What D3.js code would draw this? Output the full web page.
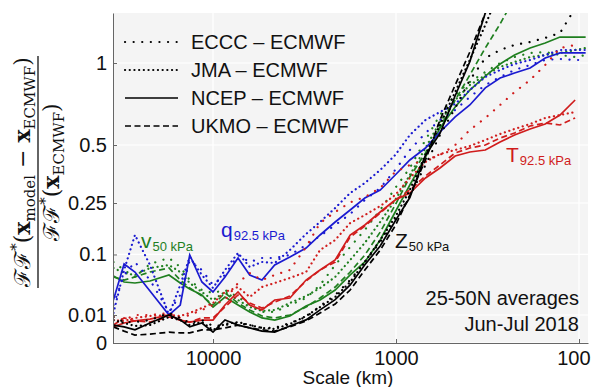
<!DOCTYPE html>
<html>
<head>
<meta charset="utf-8">
<script src="https://cdn.jsdelivr.net/npm/d3@7"></script>
<style>
  body { margin: 0; background: #fff; }
  svg text { font-family: "Liberation Sans", Arial, Helvetica, sans-serif; }
</style>
</head>
<body>
<svg id="chart" width="591" height="387"></svg>
<script>
// scale (km) of each sample, shared by all series
const scales = [35000, 30600, 26700, 22100, 17400, 15100, 13400, 11500, 10000, 8600,
  7300, 6300, 5400, 4600, 3800, 3100, 2600, 2150, 1780, 1480,
  1220, 1010, 840, 690, 575, 475, 395, 325, 270, 225,
  185, 153, 127, 105, 92];

// Z 50 kPa
const zEccc = [0.0086, 0.0056, 0.0056, 0.0067, 0.0115, 0.008, 0.0051, 0.0067, 0.0037, 0.0041, 0.0051, 0.0041, 0.0029, 0.0029, 0.0051, 0.0086, 0.0175, 0.0294, 0.0506, 0.084, 0.130, 0.193, 0.276, 0.404, 0.552, 0.704, 0.882, 1.036, 1.095, 1.133, 1.156, 1.187, 1.226, 1.43, 1.7];
const zJma = [0.0067, 0.0051, 0.0037, 0.0041, 0.0086, 0.0067, 0.0041, 0.0056, 0.0022, 0.0046, 0.0056, 0.0041, 0.0029, 0.0025, 0.0046, 0.0093, 0.0165, 0.027, 0.0475, 0.084, 0.135, 0.2025, 0.299, 0.451, 0.606, 0.804, 1.022, 1.29, 1.59, null, null, null, null, null, null];
const zNcep = [0.0041, 0.0033, 0.0022, 0.0051, 0.010, 0.0068, 0.0033, 0.0051, 0.0015, 0.0068, 0.0041, 0.0029, 0.0018, 0.0015, 0.0037, 0.0068, 0.014, 0.024, 0.043, 0.078, 0.12, 0.19, 0.27, 0.45, 0.56, 0.78, 1.01, 1.39, 1.68, null, null, null, null, null, null];
const zUkmo = [0.0033, 0.0018, 0.0008, 0.001, 0.0015, 0.0013, 0.0013, 0.0022, 0.0022, 0.0029, 0.0041, 0.0029, 0.0022, 0.0018, 0.0033, 0.0062, 0.0115, 0.0194, 0.0358, 0.068, 0.110, 0.175, 0.279, 0.427, 0.634, 0.849, 1.08, 1.389, 1.73, null, null, null, null, null, null];

// v 50 kPa
const vEccc = [0.0837, 0.068, 0.0556, 0.0796, 0.0922, 0.0737, 0.0506, 0.0358, 0.0319, 0.0358, 0.027, 0.0184, 0.0123, 0.0123, 0.0184, 0.0258, 0.0429, 0.0776, 0.1176, 0.163, 0.2256, 0.306, 0.391, 0.526, 0.663, 0.785, 0.869, 0.937, 1.0, 1.043, 1.073, 1.08, 1.058, 1.043, 1.058];
const vJma = [0.0718, 0.0625, 0.059, 0.0718, 0.0776, 0.0643, 0.0459, 0.0332, 0.0236, 0.0332, 0.0236, 0.0165, 0.0131, 0.0139, 0.0204, 0.0282, 0.0386, 0.0556, 0.0879, 0.128, 0.187, 0.261, 0.36, 0.485, 0.623, 0.753, 0.849, 0.916, 0.972, 1.007, 1.043, 1.058, 1.073, 1.095, 1.11];
const vNcep = [0.0573, 0.0475, 0.0459, 0.049, 0.059, 0.0459, 0.0372, 0.0294, 0.0165, 0.027, 0.0184, 0.0123, 0.008, 0.0067, 0.0093, 0.0175, 0.0236, 0.0358, 0.059, 0.0837, 0.1353, 0.2189, 0.3184, 0.441, 0.59, 0.71, 0.816, 0.909, 0.993, 1.058, 1.11, 1.148, 1.194, 1.194, 1.194];
const vUkmo = [0.0556, 0.0506, 0.0556, 0.0643, 0.0718, 0.0506, 0.0386, 0.0282, 0.0184, 0.0319, 0.0204, 0.0139, 0.0093, 0.008, 0.01, 0.0165, 0.0258, 0.04, 0.0643, 0.0988, 0.157, 0.243, 0.352, 0.461, 0.595, 0.753, 0.916, 1.11, 1.298, 1.52, null, null, null, null, null];

// q 92.5 kPa
const qEccc = [0.0184, 0.059, 0.0837, 0.0506, 0.0123, 0.0294, 0.0879, 0.068, 0.0429, 0.059, 0.0988, 0.0837, 0.0922, 0.0922, 0.0988, 0.1225, 0.146, 0.1776, 0.2122, 0.2608, 0.3064, 0.3818, 0.4751, 0.5625, 0.6343, 0.6925, 0.772, 0.849, 0.9025, 0.9506, 0.9858, 1.0216, 1.029, 1.0216, 1.0216];
const qJma = [0.0115, 0.068, 0.1488, 0.0776, 0.010, 0.0429, 0.0943, 0.059, 0.0386, 0.068, 0.1033, 0.0737, 0.0837, 0.0816, 0.1103, 0.1516, 0.1868, 0.2325, 0.287, 0.3265, 0.3818, 0.4508, 0.5518, 0.6343, 0.6806, 0.7286, 0.8164, 0.9025, 0.9506, 0.9929, 1.0216, 1.058, 1.095, 1.095, 1.095];
const qNcep = [0.0236, 0.0796, 0.0643, 0.0345, 0.010, 0.0184, 0.0988, 0.0475, 0.0332, 0.0556, 0.0922, 0.059, 0.0506, 0.0776, 0.0943, 0.1151, 0.1488, 0.1868, 0.2256, 0.2682, 0.2986, 0.36, 0.4272, 0.485, 0.568, 0.652, 0.7225, 0.83, 0.896, 0.93, 0.965, 1.036, 1.073, 1.073, 1.073];

// T 92.5 kPa
const tEccc = [0.0086, 0.0067, 0.010, 0.010, 0.0115, 0.008, 0.010, 0.0139, 0.0184, 0.0236, 0.0459, 0.0625, 0.0506, 0.059, 0.068, 0.1176, 0.1837, 0.2189, 0.2522, 0.2719, 0.3064, 0.373, 0.4041, 0.4272, 0.4508, 0.5, 0.5787, 0.6458, 0.7225, 0.8036, 0.8823, 0.9858, 1.11, 1.1327, null];
const tJma = [0.0067, 0.0062, 0.008, 0.0093, 0.010, 0.0093, 0.0115, 0.0156, 0.0204, 0.0332, 0.040, 0.027, 0.040, 0.0459, 0.0539, 0.0643, 0.1103, 0.1353, 0.1837, 0.209, 0.2394, 0.2794, 0.3473, 0.4179, 0.4556, 0.4751, 0.495, 0.5256, 0.5572, 0.5842, 0.6118, 0.6458, 0.6631, 0.6806, null];
const tNcep = [0.0033, 0.0051, 0.0062, 0.0073, 0.010, 0.0067, 0.0056, 0.0067, 0.0067, 0.0184, 0.0332, 0.0184, 0.0139, 0.0236, 0.0258, 0.0506, 0.068, 0.0879, 0.1488, 0.1776, 0.2189, 0.2608, 0.287, 0.3473, 0.3906, 0.4461, 0.4654, 0.4751, 0.5154, 0.5518, 0.5842, 0.6118, 0.6631, 0.7532, null];
const tUkmo = [0.0041, 0.008, 0.0062, 0.0056, 0.0086, 0.0067, 0.0056, 0.008, 0.008, 0.0165, 0.0294, 0.0204, 0.0156, 0.0214, 0.0282, 0.049, 0.068, 0.0837, 0.1433, 0.1746, 0.2156, 0.2608, 0.2986, 0.3558, 0.4041, 0.4605, 0.485, 0.5, 0.536, 0.5625, 0.6007, 0.6173, 0.6062, 0.6458, null];

const yTicks = [0, 0.01, 0.1, 0.25, 0.5, 1];
const xTicks = [10000, 1000, 100];
const legendLabels = ["ECCC – ECMWF", "JMA – ECMWF", "NCEP – ECMWF", "UKMO – ECMWF"];

const green = "#1f7f1f", blue = "#1a1ad0", red = "#d01c1c", black = "#000";
const styles = ["0.1 8.5", "0.1 4.6", null, "6 3.5"]; // ECCC, JMA, NCEP, UKMO

const series = [
  { vals: vEccc, color: green, m: 0 }, { vals: vJma, color: green, m: 1 },
  { vals: vUkmo, color: green, m: 3 }, { vals: vNcep, color: green, m: 2 },
  { vals: qEccc, color: blue, m: 0 }, { vals: qJma, color: blue, m: 1 },
  { vals: qNcep, color: blue, m: 2 },
  { vals: tEccc, color: red, m: 0 }, { vals: tJma, color: red, m: 1 },
  { vals: tUkmo, color: red, m: 3 }, { vals: tNcep, color: red, m: 2 },
  { vals: zEccc, color: black, m: 0 }, { vals: zJma, color: black, m: 1 },
  { vals: zUkmo, color: black, m: 3 }, { vals: zNcep, color: black, m: 2 },
];

const svg = d3.select('#chart');
const plotL = 113, plotR = 588, plotT = 13, plotB = 343;

const x = d3.scaleLog().domain([35190, 89.3]).range([plotL, plotR]);
const y = d3.scalePow().exponent(0.5).domain([0, 1.389]).range([plotB, plotT]);

// --- background + grid ---
svg.append('rect')
  .attr('x', plotL).attr('y', plotT)
  .attr('width', plotR - plotL).attr('height', plotB - plotT)
  .attr('fill', '#f4f4f4');

svg.append('g')
  .selectAll('line')
  .data(yTicks)
  .enter().append('line')
  .attr('x1', plotL).attr('x2', plotR)
  .attr('y1', d => y(d)).attr('y2', d => y(d))
  .attr('stroke', '#fff').attr('stroke-width', 1.2);

svg.append('g')
  .selectAll('line')
  .data(xTicks)
  .enter().append('line')
  .attr('x1', d => x(d)).attr('x2', d => x(d))
  .attr('y1', plotT).attr('y2', plotB)
  .attr('stroke', '#fff').attr('stroke-width', 1.2);

// --- lines ---
svg.append('clipPath').attr('id', 'clip')
  .append('rect')
  .attr('x', plotL).attr('y', plotT)
  .attr('width', plotR - plotL).attr('height', plotB - plotT);

const line = d3.line()
  .defined(d => d[1] != null)
  .x(d => x(d[0]))
  .y(d => y(d[1]));

const plot = svg.append('g').attr('clip-path', 'url(#clip)');
series.forEach(s => {
  plot.append('path')
    .datum(scales.map((k, i) => [k, s.vals[i]]))
    .attr('fill', 'none')
    .attr('stroke', s.color)
    .attr('stroke-width', s.m < 2 ? 2.2 : 1.7)
    .attr('stroke-linecap', s.m < 2 ? 'round' : 'butt')
    .attr('stroke-dasharray', styles[s.m])
    .attr('d', line);
});

// --- axes ---
const yAxis = svg.append('g')
  .attr('transform', `translate(${plotL},0)`)
  .call(d3.axisLeft(y).tickValues(yTicks).tickFormat(d => String(d))
    .tickSizeInner(-4).tickSizeOuter(0).tickPadding(6));

const xAxis = svg.append('g')
  .attr('transform', `translate(0,${plotB})`)
  .call(d3.axisBottom(x).tickValues(xTicks).tickFormat(d3.format('d'))
    .tickSizeInner(-4).tickSizeOuter(0).tickPadding(8));

[xAxis, yAxis].forEach(a => {
  a.select('.domain').attr('stroke', '#666').attr('stroke-width', 1);
  a.selectAll('.tick line').attr('stroke', '#666');
  a.selectAll('text').attr('fill', '#111').style('font-size', '20px')
    .style('font-family', '"Liberation Sans", Arial, sans-serif');
});
// last label sits against the right edge of the figure
xAxis.selectAll('.tick text').filter(d => d === 100)
  .attr('text-anchor', 'end').attr('x', 590 - x(100));

svg.append('text')
  .attr('x', 348).attr('y', 384)
  .attr('text-anchor', 'middle')
  .style('font-size', '19px')
  .attr('fill', '#111')
  .text('Scale (km)');

// --- y label: fraction ---
const ylab = svg.append('g')
  .attr('transform', 'translate(38,172) rotate(-90)')
  .attr('fill', '#111');

function mathText(g, yb, parts) {
  const t = g.append('text').attr('x', 0).attr('y', yb)
    .attr('text-anchor', 'middle')
    .style('font-family', '"DejaVu Serif", "Liberation Serif", serif')
    .style('font-size', '22px');
  parts.forEach(p => {
    const ts = t.append('tspan').text(p.t);
    if (p.b) ts.style('font-weight', 'bold');
    if (p.sub) ts.style('font-size', '15px');
    if (p.dy) ts.attr('dy', p.dy);
  });
}

mathText(ylab, -8, [
  { t: 'ℱℱ' }, { t: '*', sub: true, dy: -9 }, { t: '(', dy: 9 },
  { t: 'x', b: true }, { t: 'model', sub: true, dy: 5 }, { t: ' − ', dy: -5 },
  { t: 'x', b: true }, { t: 'ECMWF', sub: true, dy: 5 }, { t: ')', dy: -5 }
]);
ylab.append('line')
  .attr('x1', -116).attr('x2', 116)
  .attr('y1', 0).attr('y2', 0)
  .attr('stroke', '#111').attr('stroke-width', 1.3);
mathText(ylab, 21, [
  { t: 'ℱℱ' }, { t: '*', sub: true, dy: -9 }, { t: '(', dy: 9 },
  { t: 'x', b: true }, { t: 'ECMWF', sub: true, dy: 5 }, { t: ')', dy: -5 }
]);

// --- legend ---
const legend = svg.append('g');
legendLabels.forEach((lab, i) => {
  const yb = 49 + i * 28;
  legend.append('line')
    .attr('x1', 125).attr('x2', 178)
    .attr('y1', yb - 7).attr('y2', yb - 7)
    .attr('stroke', '#000')
    .attr('stroke-width', i < 2 ? 2.2 : 1.7)
    .attr('stroke-linecap', i < 2 ? 'round' : 'butt')
    .attr('stroke-dasharray', styles[i]);
  legend.append('text')
    .attr('x', 191).attr('y', yb)
    .style('font-size', '20px').attr('fill', '#111')
    .text(lab);
});

// --- annotations ---
function varLabel(xp, yb, main, sub, color) {
  const t = svg.append('text').attr('x', xp).attr('y', yb).attr('fill', color)
    .style('font-size', '21px');
  t.append('tspan').text(main);
  t.append('tspan').attr('dx', 1).attr('dy', 3).style('font-size', '13px').text(sub);
}
varLabel(141, 248, 'v', '50 kPa', green);
varLabel(221, 237, 'q', '92.5 kPa', blue);
varLabel(506, 162, 'T', '92.5 kPa', red);
varLabel(395, 248, 'Z', '50 kPa', '#111');

svg.append('text')
  .attr('x', 579).attr('y', 305)
  .attr('text-anchor', 'end')
  .style('font-size', '20px').attr('fill', '#111')
  .text('25-50N averages');
svg.append('text')
  .attr('x', 579).attr('y', 331)
  .attr('text-anchor', 'end')
  .style('font-size', '20px').attr('fill', '#111')
  .text('Jun-Jul 2018');
</script>
</body>
</html>
